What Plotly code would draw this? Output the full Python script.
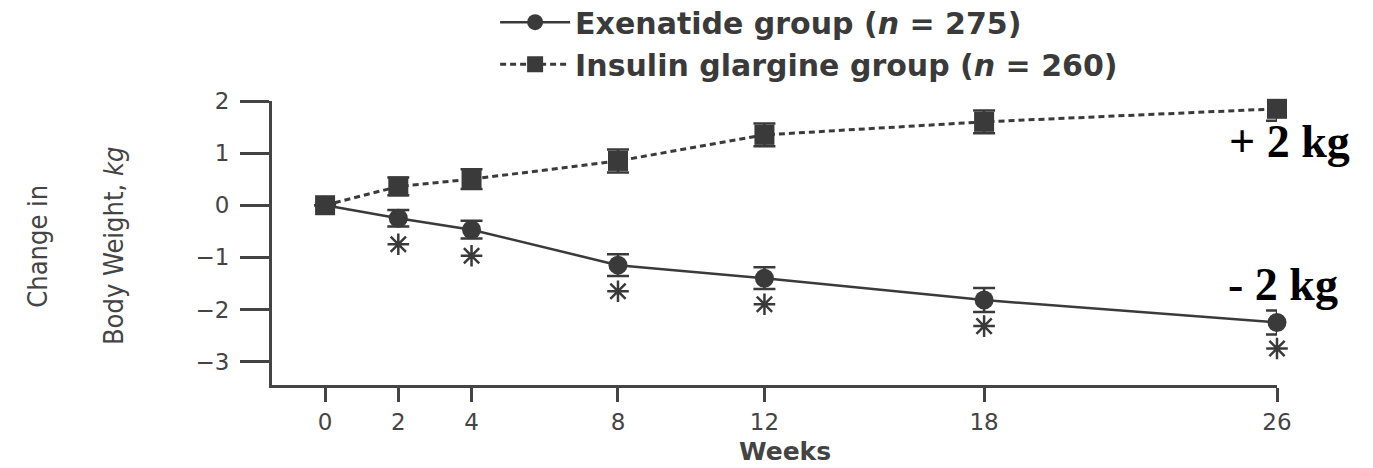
import plotly.graph_objects as go

# ---- data ----
weeks = [0, 2, 4, 8, 12, 18, 26]
week_labels = ["0", "2", "4", "8", "12", "18", "26"]
exenatide = [0.0, -0.25, -0.47, -1.15, -1.40, -1.82, -2.25]
exenatide_err = [0.0, 0.16, 0.17, 0.21, 0.21, 0.23, 0.23]
insulin = [0.0, 0.36, 0.50, 0.85, 1.35, 1.60, 1.85]
insulin_err = [0.0, 0.17, 0.19, 0.22, 0.22, 0.22, 0.23]
significant = [False, True, True, True, True, True, True]
y_ticks = [2, 1, 0, -1, -2, -3]

INK = "#3a3a3a"
AX = "#444444"
STAR_OFFSET = 0.5

fig = go.Figure()

fig.add_trace(go.Scatter(
    x=weeks, y=exenatide, mode="lines+markers",
    name="Exenatide group (<i>n</i> = 275)",
    line=dict(color=INK, width=2.5),
    marker=dict(symbol="circle", size=19, color=INK),
    error_y=dict(type="data", array=exenatide_err, color=INK, thickness=2.5, width=11),
    cliponaxis=False,
))

fig.add_trace(go.Scatter(
    x=weeks, y=insulin, mode="lines+markers",
    name="Insulin glargine group (<i>n</i> = 260)",
    line=dict(color=INK, width=3, dash="6px,4px"),
    marker=dict(symbol="square", size=20, color=INK),
    error_y=dict(type="data", array=insulin_err, color=INK, thickness=2.5, width=11),
    cliponaxis=False,
))

star_x = [w for w, s in zip(weeks, significant) if s]
star_y = [v - STAR_OFFSET for v, s in zip(exenatide, significant) if s]
fig.add_trace(go.Scatter(
    x=star_x, y=star_y, mode="markers", showlegend=False, hoverinfo="skip",
    marker=dict(symbol="asterisk-open", size=18, color=INK,
                line=dict(color=INK, width=2.5)),
    cliponaxis=False,
))

fig.update_layout(
    width=1373, height=468,
    margin=dict(l=272, r=96, t=101, b=83, autoexpand=False),
    paper_bgcolor="white", plot_bgcolor="white",
    font=dict(family="DejaVu Sans, sans-serif", color=AX),
    legend=dict(
        x=0.222, y=1.369, xanchor="left", yanchor="top",
        font=dict(family="DejaVu Sans", size=30, color=INK, weight="bold"),
        itemwidth=70, bgcolor="rgba(0,0,0,0)", tracegroupgap=0,
    ),
    showlegend=True,
)

fig.update_xaxes(
    range=[-1.45, 26], tickvals=weeks, ticktext=week_labels,
    showline=True, linecolor=AX, linewidth=3, mirror=False,
    ticks="outside", ticklen=14, tickwidth=3, tickcolor=AX,
    tickfont=dict(family="DejaVu Sans", size=23, color=AX),
    showgrid=False, zeroline=False,
)
fig.update_yaxes(
    range=[-3.45, 2], tickvals=y_ticks,
    showline=True, linecolor=AX, linewidth=3,
    ticks="outside", ticklen=29, tickwidth=2.5, tickcolor=AX, ticklabelstandoff=6,
    tickfont=dict(family="DejaVu Sans", size=23, color=AX),
    showgrid=False, zeroline=False,
)

fig.add_annotation(text="<b>Weeks</b>", xref="paper", yref="paper",
                   x=0.51, y=-0.235, showarrow=False,
                   xanchor="center", yanchor="middle",
                   font=dict(family="DejaVu Sans", size=25, color=AX))

axis_font = dict(family="DejaVu Sans Condensed, DejaVu Sans, sans-serif", size=27, color=AX)
fig.add_annotation(text="Change in", xref="paper", yref="paper",
                   x=-0.233, y=0.49, textangle=-90, showarrow=False,
                   xanchor="center", yanchor="middle", font=axis_font)
fig.add_annotation(text="Body Weight, <i>kg</i>", xref="paper", yref="paper",
                   x=-0.157, y=0.49, textangle=-90, showarrow=False,
                   xanchor="center", yanchor="middle", font=axis_font)

kg_font = dict(family="Liberation Serif, Times New Roman, serif", size=46, color="black", weight="bold")
fig.add_annotation(text="+ 2 kg", xref="paper", yref="paper", x=1.012, y=0.856,
                   showarrow=False, xanchor="center", yanchor="middle", font=kg_font)
fig.add_annotation(text="- 2 kg", xref="paper", yref="paper", x=1.006, y=0.355,
                   showarrow=False, xanchor="center", yanchor="middle", font=kg_font)

fig.write_html("out.html", config={"displayModeBar": False},
               post_script="document.body.style.margin='0';")
